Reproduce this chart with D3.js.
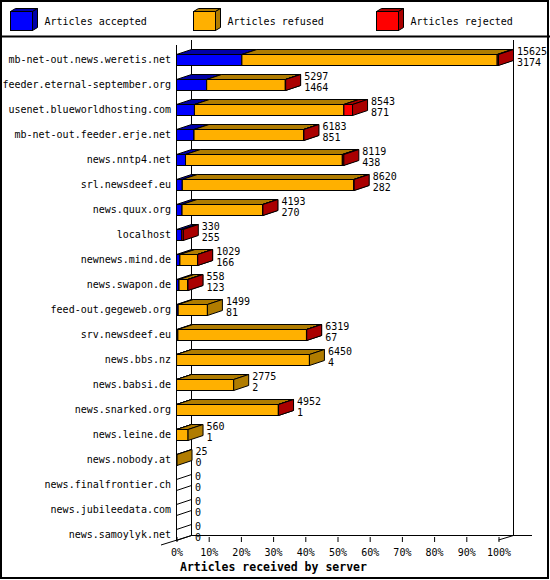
<!DOCTYPE html>
<html>
<head>
<meta charset="utf-8">
<script src="https://cdn.jsdelivr.net/npm/d3@7"></script>
<style>
  body { margin: 0; background: #fff; }
  text { font-family: 'DejaVu Sans Mono', monospace; font-size: 10px; fill: #000; }
</style>
</head>
<body>
<div id="chart"></div>
<script>
// data
const hosts = [
    'mb-net-out.news.weretis.net', 'feeder.eternal-september.org', 'usenet.blueworldhosting.com',
    'mb-net-out.feeder.erje.net', 'news.nntp4.net', 'srl.newsdeef.eu', 'news.quux.org', 'localhost',
    'newnews.mind.de', 'news.swapon.de', 'feed-out.gegeweb.org', 'srv.newsdeef.eu', 'news.bbs.nz',
    'news.babsi.de', 'news.snarked.org', 'news.leine.de', 'news.nobody.at', 'news.finalfrontier.ch',
    'news.jubileedata.com', 'news.samoylyk.net'
];
const offered  = [15625, 5297, 8543, 6183, 8119, 8620, 4193, 330, 1029, 558, 1499, 6319, 6450, 2775, 4952, 560, 25, 0, 0, 0];
const accepted = [3174, 1464, 871, 851, 438, 282, 270, 255, 166, 123, 81, 67, 4, 2, 1, 1, 0, 0, 0, 0];
const refused  = [12391, 3818, 7252, 5317, 7611, 8323, 3913, 0, 853, 427, 1418, 6240, 6446, 2773, 4943, 559, 25, 0, 0, 0];
const rejected = [60, 15, 420, 15, 70, 15, 10, 75, 10, 8, 0, 12, 0, 0, 8, 0, 0, 0, 0, 0];
const seriesNames = ['Articles accepted', 'Articles refused', 'Articles rejected'];
const xTicks = [0, 0.1, 0.2, 0.3, 0.4, 0.5, 0.6, 0.7, 0.8, 0.9, 1];

const colors = ['#0000ff', '#ffb000', '#ff0000'];
const shades = ['#0000a8', '#b07c00', '#aa0000'];

const width = 550, height = 580;
const dx = 15, dy = 5;      // depth of the 3d effect
const barH = 11;

const svg = d3.select('#chart').append('svg')
    .attr('width', width)
    .attr('height', height);

svg.append('rect').attr('width', width).attr('height', height).attr('fill', '#fff');

const x = d3.scaleLinear().domain([0, d3.max(offered)]).range([176, 498]);
const xPct = d3.scaleLinear().domain([0, 1]).range([176, 498]);
const y = d3.scaleBand().domain(hosts).range([40, 540]);

// walls and floor
const g = svg.append('g').attr('stroke', '#000').attr('stroke-width', 1).attr('fill', 'none');
const floorY = 540 - dy;
g.append('line').attr('x1', 191.5).attr('x2', 191.5).attr('y1', 40).attr('y2', floorY);
g.append('line').attr('x1', 513.5).attr('x2', 513.5).attr('y1', 40).attr('y2', floorY);
g.append('line').attr('x1', 176.5).attr('x2', 176.5).attr('y1', 45).attr('y2', 540);
g.append('line').attr('x1', 191).attr('x2', 532).attr('y1', floorY + 0.5).attr('y2', floorY + 0.5);
g.append('line').attr('x1', 161).attr('x2', 191.5).attr('y1', 545).attr('y2', floorY + 0.5);
g.append('line').attr('x1', 498.5).attr('x2', 513.5).attr('y1', 540).attr('y2', floorY + 0.5);

// bottom axis
const xAxis = svg.append('g')
    .attr('transform', 'translate(0.5,537)')
    .call(d3.axisBottom(xPct).tickValues(xTicks).tickFormat(d3.format('.0%')).tickSize(5).tickPadding(0));
xAxis.select('.domain').remove();
xAxis.selectAll('line').attr('stroke', '#000');
xAxis.selectAll('text')
    .attr('y', 19).attr('dy', null)
    .style('font-family', "'DejaVu Sans Mono', monospace").style('font-size', '10px');

svg.append('text')
    .attr('x', 180).attr('y', 571)
    .style('font-size', '11.5px').style('font-weight', 'bold')
    .text('Articles received by server');

// bars
function box(sel, x0, x1, yt, yb, c, s) {
    sel.append('rect')
        .attr('x', x0).attr('y', yt).attr('width', x1 - x0).attr('height', yb - yt)
        .attr('fill', c).attr('stroke', '#000');
    sel.append('polygon')
        .attr('points', [[x0, yt], [x0 + dx, yt - dy], [x1 + dx, yt - dy], [x1, yt]].join(' '))
        .attr('fill', s).attr('stroke', '#000');
    sel.append('polygon')
        .attr('points', [[x1, yt], [x1 + dx, yt - dy], [x1 + dx, yb - dy], [x1, yb]].join(' '))
        .attr('fill', s).attr('stroke', '#000');
}

const bars = svg.append('g');
hosts.forEach((h, i) => {
    const yb = y(h) + y.bandwidth() + 0.5;
    const yt = yb - barH;
    const bg = bars.append('g');
    const vals = [accepted[i], refused[i], rejected[i]];
    let cum = 0;
    vals.forEach((v, k) => {
        if (v <= 0) return;
        box(bg, x(cum) + 0.5, x(cum + v) + 0.5, yt, yb, colors[k], shades[k]);
        cum += v;
    });
    if (cum === 0) {
        bg.append('polygon')
            .attr('points', [[176.5, yt], [176.5 + dx, yt - dy], [176.5 + dx, yb - dy], [176.5, yb]].join(' '))
            .attr('fill', 'none').attr('stroke', '#000');
    }
    const lx = x(offered[i]) + dx + 4;
    svg.append('text').attr('x', lx).attr('y', yb - 11).text(offered[i]);
    svg.append('text').attr('x', lx).attr('y', yb).text(accepted[i]);
    svg.append('text').attr('x', 171).attr('y', yb - 3).attr('text-anchor', 'end').text(h);
});

// legend
const legX = [10.5, 193.5, 376.5];
seriesNames.forEach((name, k) => {
    const lg = svg.append('g');
    const x0 = legX[k], yt = 11.5, x1 = x0 + 22, yb = 30.5;
    lg.append('rect').attr('x', x0).attr('y', yt).attr('width', x1 - x0).attr('height', yb - yt)
        .attr('fill', colors[k]).attr('stroke', '#000');
    lg.append('polygon')
        .attr('points', [[x0, yt], [x0 + 5, yt - 3], [x1 + 5, yt - 3], [x1, yt]].join(' '))
        .attr('fill', shades[k]).attr('stroke', '#000');
    lg.append('polygon')
        .attr('points', [[x1, yt], [x1 + 5, yt - 3], [x1 + 5, yb - 3], [x1, yb]].join(' '))
        .attr('fill', shades[k]).attr('stroke', '#000');
    lg.append('text').attr('x', x0 + 34).attr('y', 25).text(name);
});

svg.append('line').attr('x1', 0).attr('x2', width).attr('y1', 36.5).attr('y2', 36.5)
    .attr('stroke', '#000').attr('stroke-width', 2);
svg.append('rect').attr('x', 1).attr('y', 1).attr('width', 547).attr('height', 577)
    .attr('fill', 'none').attr('stroke', '#000').attr('stroke-width', 2);
</script>
</body>
</html>
